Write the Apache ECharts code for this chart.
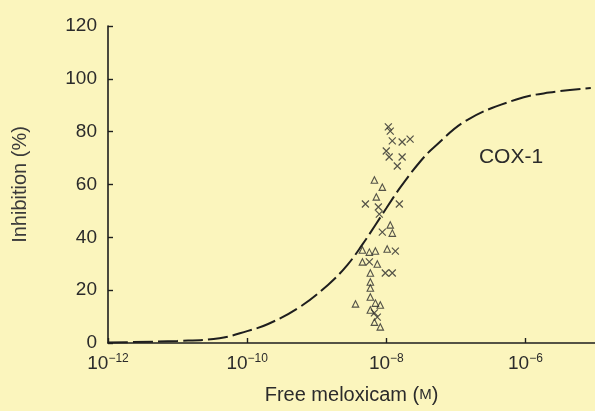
<!DOCTYPE html>
<html>
<head>
<meta charset="utf-8">
<script src="https://cdn.jsdelivr.net/npm/echarts@6/dist/echarts.min.js"></script>
<style>
  html, body { margin: 0; padding: 0; background: #fbf5bd; }
  #chart { width: 595px; height: 411px; }
</style>
</head>
<body>
<div id="chart"></div>
<script>
// Free meloxicam concentration (M) vs COX-1 inhibition (%)

// Fitted concentration–response curve
const curveConc = [1e-12, 1e-11, 4e-11, 1e-10, 2e-10, 5.4e-10, 1.45e-9, 2.75e-9, 4.6e-9,
  6.9e-9, 1e-8, 1.6e-8, 3.1e-8, 4.9e-8, 1.45e-7, 7.4e-7, 2.2e-6, 8.7e-6];
const curveInhib = [0.2, 0.8, 1.8, 4.5, 7.2, 13.2, 22.0, 29.5, 37.5,
  44.5, 51.0, 59.0, 68.8, 74.2, 84.4, 92.2, 94.8, 96.5];

// Observations marked with crosses
const crossConc = [1.07e-8, 1.14e-8, 1.22e-8, 1.69e-8, 2.2e-8, 1.0e-8, 1.1e-8, 1.69e-8, 1.44e-8,
  5.01e-9, 7.69e-9, 1.54e-8, 7.94e-9, 8.77e-9, 5.71e-9, 1.35e-8, 9.68e-9, 1.22e-8, 6.75e-9, 7.43e-9];
const crossInhib = [81.8, 80.2, 76.5, 76.1, 77.2, 72.7, 70.4, 70.4, 67.0,
  52.6, 51.5, 52.6, 48.8, 42.0, 30.7, 34.8, 26.5, 26.5, 11.4, 9.8];

// Observations marked with triangles
const triConc = [6.75e-9, 8.77e-9, 7.19e-9, 1.14e-8, 1.22e-8, 4.54e-9, 5.71e-9, 6.97e-9, 1.03e-8,
  4.54e-9, 7.43e-9, 5.9e-9, 5.9e-9, 5.9e-9, 5.9e-9, 3.61e-9, 6.97e-9, 8.2e-9, 5.9e-9, 6.75e-9, 8.2e-9];
const triInhib = [61.7, 59.0, 55.3, 44.7, 41.6, 35.2, 34.4, 34.8, 35.6,
  30.7, 29.9, 26.5, 23.1, 20.8, 17.4, 14.8, 15.1, 14.4, 12.5, 7.9, 6.1];

const yTicks = [0, 20, 40, 60, 80, 100, 120];

const pair = (xs, ys) => xs.map((x, i) => [x, ys[i]]);
const ink = '#1e1e1e';
const txt = '#2b2b2b';

const chart = echarts.init(document.getElementById('chart'), null, { renderer: 'canvas' });
chart.setOption({
  backgroundColor: '#fbf5bd',
  animation: false,
  textStyle: { fontFamily: 'Liberation Sans, Arial, sans-serif' },
  // plot area runs a little past the right edge, so the axis is cut at the border
  grid: { left: 108, width: 491, top: 26, bottom: 68, containLabel: false },
  xAxis: {
    type: 'log',
    logBase: 10,
    min: 1e-12,
    max: 1e-5,
    interval: 2,
    splitLine: { show: false },
    axisLine: { lineStyle: { color: ink, width: 1.6 } },
    axisTick: { inside: true, length: 5, lineStyle: { color: ink, width: 1.4 } },
    axisLabel: {
      margin: 10,
      color: txt,
      showMaxLabel: false,
      formatter: v => {
        const e = Math.round(Math.log10(v));
        return '{b|10}{s|' + (e < 0 ? '\u2212' + (-e) : e) + '}';
      },
      rich: {
        b: { fontSize: 19, color: txt, lineHeight: 22 },
        s: { fontSize: 12, color: txt, lineHeight: 12, verticalAlign: 'top' }
      }
    },
    name: 'Free meloxicam ({sc|M})',
    nameLocation: 'middle',
    nameGap: 42,
    nameTextStyle: {
      fontSize: 20, color: txt,
      rich: { sc: { fontSize: 15, color: txt } }
    }
  },
  yAxis: {
    type: 'value',
    min: 0,
    max: 120,
    interval: 20,
    splitLine: { show: false },
    axisLine: { show: true, lineStyle: { color: ink, width: 1.6 } },
    axisTick: { show: true, inside: true, length: 5, lineStyle: { color: ink, width: 1.4 } },
    axisLabel: {
      margin: 11, fontSize: 19, color: txt,
      formatter: v => (yTicks.includes(v) ? String(v) : '')
    },
    name: 'Inhibition (%)',
    nameLocation: 'middle',
    nameGap: 78,
    nameTextStyle: { fontSize: 20, color: '#3a3a3a' }
  },
  series: [
    {
      type: 'line',
      data: pair(curveConc, curveInhib),
      smooth: 0.4,
      showSymbol: false,
      lineStyle: { color: ink, width: 2, type: [20, 5] },
      z: 3
    },
    {
      type: 'scatter',
      data: pair(crossConc, crossInhib),
      symbol: 'path://M0,0L10,10M10,0L0,10',
      symbolSize: 7,
      itemStyle: { color: 'none', borderColor: '#2a2a2a', borderWidth: 1.2 },
      z: 4
    },
    {
      type: 'scatter',
      data: pair(triConc, triInhib),
      symbol: 'triangle',
      symbolSize: 6.5,
      itemStyle: { color: 'none', borderColor: '#2a2a2a', borderWidth: 1.1 },
      z: 4
    }
  ],
  graphic: [
    {
      type: 'text',
      x: 511, y: 157,
      style: {
        text: 'COX-1', fontSize: 21, fill: txt,
        fontFamily: 'Liberation Sans, Arial, sans-serif',
        align: 'center', verticalAlign: 'middle'
      }
    }
  ]
});
</script>
</body>
</html>
